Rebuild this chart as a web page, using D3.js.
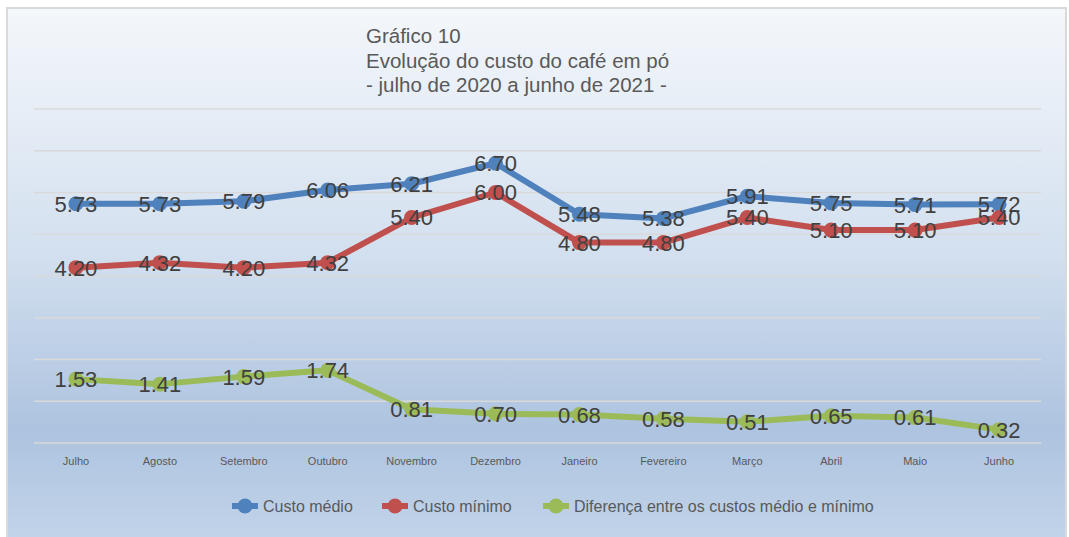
<!DOCTYPE html>
<html>
<head>
<meta charset="utf-8">
<script src="https://cdn.jsdelivr.net/npm/d3@7"></script>
<style>
  body { margin: 0; background: #ffffff; }
  svg { display: block; font-family: "Liberation Sans", Arial, sans-serif; }
</style>
</head>
<body>
<div id="chart"></div>
<script>
// --- dados ---
const months = ["Julho", "Agosto", "Setembro", "Outubro", "Novembro", "Dezembro",
  "Janeiro", "Fevereiro", "Março", "Abril", "Maio", "Junho"];
const custoMedio = [5.73, 5.73, 5.79, 6.06, 6.21, 6.70, 5.48, 5.38, 5.91, 5.75, 5.71, 5.72];
const custoMinimo = [4.20, 4.32, 4.20, 4.32, 5.40, 6.00, 4.80, 4.80, 5.40, 5.10, 5.10, 5.40];
const diferenca = [1.53, 1.41, 1.59, 1.74, 0.81, 0.70, 0.68, 0.58, 0.51, 0.65, 0.61, 0.32];
const seriesNames = ["Custo médio", "Custo mínimo", "Diferença entre os custos médio e mínimo"];
const titleLines = ["Gráfico 10", "Evolução do custo do café em pó", "- julho de 2020 a junho de 2021 -"];

const width = 1069, height = 537;
const plot = { left: 34, right: 1041, top: 109, bottom: 443 };
const colors = ["#4f81bd", "#c0504d", "#9bbb59"];
const series = [custoMedio, custoMinimo, diferenca];

const svg = d3.select("#chart").append("svg")
  .attr("width", width).attr("height", height);

// fundo em degradê
const grad = svg.append("defs").append("linearGradient")
  .attr("id", "bg").attr("x1", 0).attr("y1", 0).attr("x2", 0).attr("y2", 1);
[[0, "#f4f7fb"], [0.45, "#d3e0ef"], [0.78, "#adc3df"], [1, "#c3d5ea"]].forEach(s =>
  grad.append("stop").attr("offset", s[0]).attr("stop-color", s[1]));

svg.append("rect")
  .attr("x", 7).attr("y", 8).attr("width", 1059).attr("height", 540)
  .attr("fill", "url(#bg)").attr("stroke", "#d9d9d9").attr("stroke-width", 2);

// escalas
const x = d3.scaleBand().domain(months).range([plot.left, plot.right]);
const y = d3.scaleLinear().domain([0, 8]).range([plot.bottom, plot.top]);
const cx = d => x(d) + x.bandwidth() / 2;

// grade
svg.append("g").selectAll("line")
  .data(y.ticks(8))
  .join("line")
  .attr("x1", plot.left).attr("x2", plot.right)
  .attr("y1", d => y(d)).attr("y2", d => y(d))
  .attr("stroke", "#d9d9d9").attr("stroke-width", 1.5);

// eixo x (só rótulos)
const xAxis = svg.append("g")
  .attr("transform", `translate(0,${plot.bottom})`)
  .call(d3.axisBottom(x).tickSize(0).tickPadding(14));
xAxis.select(".domain").remove();
xAxis.selectAll("text")
  .attr("fill", "#595959").style("font-size", "11px")
  .style("font-family", "'Liberation Sans', Arial, sans-serif");

// título
svg.append("text")
  .attr("x", 366).attr("y", 43)
  .attr("fill", "#595959").style("font-size", "20.5px")
  .selectAll("tspan")
  .data(titleLines)
  .join("tspan")
  .attr("x", 366)
  .attr("dy", (d, i) => i === 0 ? 0 : 24.5)
  .text(d => d);

// linhas e marcadores
const line = d3.line().x((d, i) => cx(months[i])).y(d => y(d));

series.forEach((vals, s) => {
  const g = svg.append("g");
  g.append("path")
    .datum(vals)
    .attr("d", line)
    .attr("fill", "none")
    .attr("stroke", colors[s]).attr("stroke-width", 6)
    .attr("stroke-linejoin", "round");
  g.selectAll("circle")
    .data(vals)
    .join("circle")
    .attr("cx", (d, i) => cx(months[i]))
    .attr("cy", d => y(d))
    .attr("r", 7.5)
    .attr("fill", colors[s]);
});

// rótulos de dados (centralizados no ponto)
series.forEach((vals, s) => {
  svg.append("g").selectAll("text")
    .data(vals)
    .join("text")
    .attr("x", (d, i) => cx(months[i]))
    .attr("y", d => y(d))
    .attr("dy", "0.36em")
    .attr("text-anchor", "middle")
    .attr("fill", "#404040")
    .style("font-size", "22px")
    .text(d => d.toFixed(2));
});

// legenda
const legendX = [245, 395, 556];
const legend = svg.append("g").attr("transform", "translate(0,506)");
seriesNames.forEach((name, i) => {
  const item = legend.append("g").attr("transform", `translate(${legendX[i]},0)`);
  item.append("line")
    .attr("x1", -13).attr("x2", 13)
    .attr("stroke", colors[i]).attr("stroke-width", 6);
  item.append("circle").attr("r", 7.5).attr("fill", colors[i]);
  item.append("text")
    .attr("x", 18).attr("dy", "0.35em")
    .attr("fill", "#595959").style("font-size", "16px")
    .text(name);
});
</script>
</body>
</html>
